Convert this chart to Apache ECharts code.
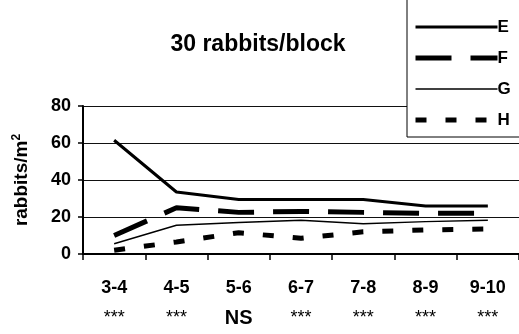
<!DOCTYPE html>
<html><head><meta charset="utf-8">
<script src="https://cdn.jsdelivr.net/npm/echarts@6/dist/echarts.min.js"></script>
<style>html,body{margin:0;padding:0;background:#fff}#c{width:519px;height:334px}</style>
</head><body><div id="c"></div>
<script>
var categories = ['3-4','4-5','5-6','6-7','7-8','8-9','9-10'];
var significance = ['***','***','NS','***','***','***','***'];
var seriesE = [61.5, 33.5, 29.5, 29.5, 29.5, 26, 26];
var seriesF = [10, 25, 22.5, 23, 22.5, 22, 22];
var seriesG = [5.5, 15.5, 17, 18.3, 16.3, 17.5, 18.3];
var seriesH = [2, 6.5, 11.5, 8.5, 12, 13, 13.5];
var yTicks = [0, 20, 40, 60, 80];

var F = 'Arial, "Liberation Sans", sans-serif';
var styles = {
  E:{color:'#000', width:3, type:'solid'},
  F:{color:'#000', width:5, type:[36,19]},
  G:{color:'#000', width:1.5, type:'solid'},
  H:{color:'#000', width:5, type:[11,19]}
};
var chart = echarts.init(document.getElementById('c'), null, {renderer:'canvas'});
chart.setOption({
  animation:false,
  backgroundColor:'#fff',
  title:{text:'30 rabbits/block', left:253, top:28, textAlign:'center',
    textStyle:{fontFamily:F, fontWeight:'bold', fontSize:23, color:'#000'}},
  grid:{left:83, right:0, top:106, bottom:80, containLabel:false},
  legend:{
    orient:'vertical', left:407, top:-3, z:10,
    backgroundColor:'#fff', borderColor:'#000', borderWidth:1,
    padding:[20,30,7,6], itemGap:11, itemWidth:82, itemHeight:20,
    itemStyle:{opacity:0},
    textStyle:{fontFamily:F, fontWeight:'bold', fontSize:17, color:'#000', padding:[0,0,0,-5], lineHeight:20},
    data:['E','F','G','H'].map(function(n){ return {name:n, lineStyle:styles[n]}; })
  },
  xAxis:{type:'category', data:categories, boundaryGap:true,
    axisLine:{lineStyle:{color:'#000', width:2}},
    axisTick:{show:true, length:6, lineStyle:{color:'#000', width:1.5}},
    axisLabel:{margin:19, interval:0,
      formatter:function(v, i){ var s = significance[i]; return '{a|'+v+'}\n{'+(s==='NS'?'n':'b')+'|'+s+'}'; },
      rich:{
        a:{fontFamily:F, fontWeight:'bold', fontSize:18, color:'#000', lineHeight:30},
        b:{fontFamily:F, fontSize:18, color:'#000', lineHeight:30},
        n:{fontFamily:F, fontWeight:'bold', fontSize:20, color:'#000', lineHeight:30}
      }},
    splitLine:{show:false}
  },
  yAxis:{type:'value', min:0, max:80, interval:20,
    name:'{a|rabbits/m}{s|2}', nameLocation:'middle', nameGap:50, nameRotate:90,
    nameTextStyle:{fontFamily:F, fontWeight:'bold', fontSize:19, color:'#000',
      rich:{a:{fontFamily:F, fontWeight:'bold', fontSize:19, color:'#000', lineHeight:22},
            s:{fontFamily:F, fontWeight:'bold', fontSize:12, color:'#000', verticalAlign:'top', lineHeight:22}}},
    axisLine:{show:true, lineStyle:{color:'#000', width:2}},
    axisTick:{show:true, length:5, lineStyle:{color:'#000', width:1.5}},
    axisLabel:{fontFamily:F, fontWeight:'bold', fontSize:18, color:'#000', margin:12},
    splitLine:{show:true, lineStyle:{color:'#111', width:1}}
  },
  series:[
    {name:'E', type:'line', data:seriesE, symbol:'none', lineStyle:styles.E, itemStyle:{color:'#000'}},
    {name:'F', type:'line', data:seriesF, symbol:'none', lineStyle:styles.F, itemStyle:{color:'#000'}},
    {name:'G', type:'line', data:seriesG, symbol:'none', lineStyle:styles.G, itemStyle:{color:'#000'}},
    {name:'H', type:'line', data:seriesH, symbol:'none', lineStyle:styles.H, itemStyle:{color:'#000'}}
  ]
});
</script></body></html>
